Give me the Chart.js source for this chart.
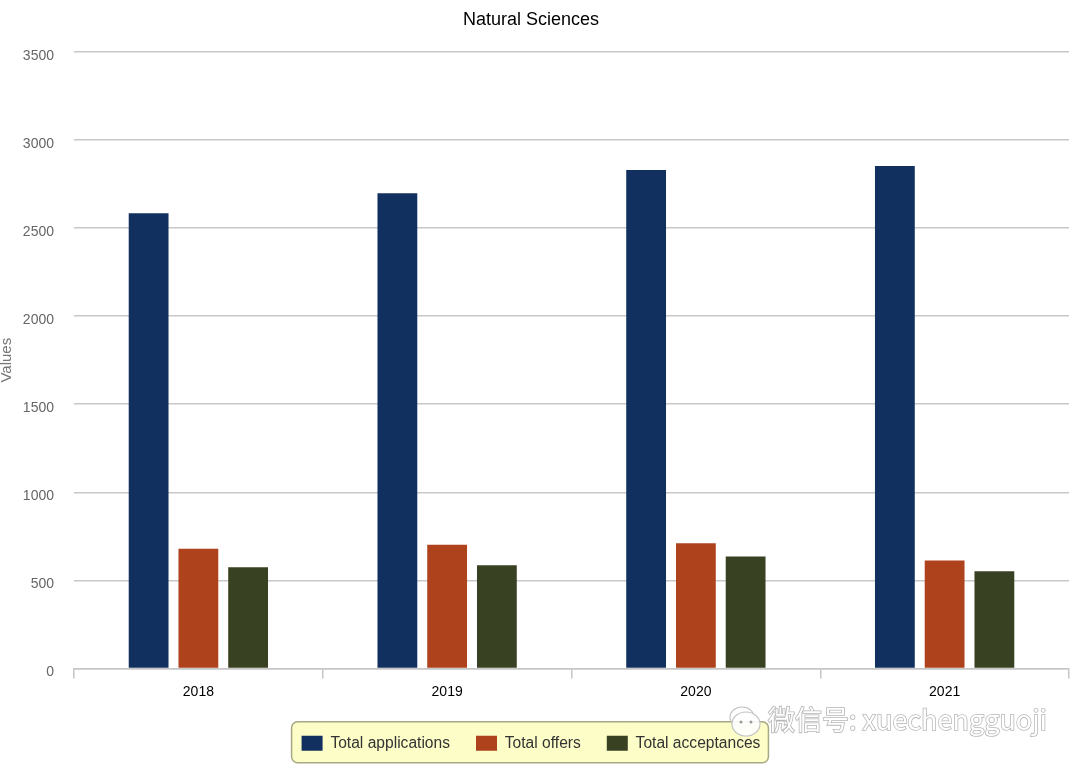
<!DOCTYPE html>
<html>
<head>
<meta charset="utf-8">
<style>html,body{margin:0;padding:0;background:#fff}canvas{display:block}</style>
<script src="https://cdn.jsdelivr.net/npm/chart.js@4"></script>
</head>
<body>
<canvas id="c" width="1080" height="772"></canvas>
<script>
const categories = ["2018", "2019", "2020", "2021"];
const totalApplications = [2585, 2698, 2830, 2853];
const totalOffers = [680, 702, 710, 612];
const totalAcceptances = [575, 585, 635, 552];
const seriesNames = ["Total applications", "Total offers", "Total acceptances"];
const seriesColors = ["#12305f", "#ae421c", "#384122"];
const chartTitle = "Natural Sciences";
const yAxisTitle = "Values";
const watermark = "微信号: xuechengguoji";

const fontFamily = "'Liberation Sans', Arial, sans-serif";

const layoutTweaks = {
  id: "layoutTweaks",
  afterLayout(chart) {
    const t = chart.titleBlock, l = chart.legend;
    t.left -= 3.5; t.right -= 3.5;
    l.left -= 3.5; l.right -= 3.5;
    l.top += 5; l.bottom += 5;
    l.legendHitBoxes.forEach(b => { b.left -= 3.5; b.top += 5; });
  }
};

const legendBox = {
  id: "legendBox",
  beforeDraw(chart) {
    const ctx = chart.ctx, h = chart.legend.legendHitBoxes;
    const x0 = h[0].left - 10, x1 = h[h.length - 1].left + h[h.length - 1].width + 8;
    const cy = h[0].top + h[0].height / 2 - 6;
    ctx.save();
    ctx.fillStyle = "#fdfdc8";
    ctx.strokeStyle = "#a8a882";
    ctx.lineWidth = 1.5;
    ctx.beginPath();
    ctx.roundRect(x0, cy - 20.5, x1 - x0, 41, 6);
    ctx.fill();
    ctx.stroke();
    ctx.restore();
  }
};

const watermarkPlugin = {
  id: "watermarkPlugin",
  afterDraw(chart) {
    const ctx = chart.ctx;
    ctx.save();
    ctx.fillStyle = "rgba(255,255,255,0.9)";
    ctx.strokeStyle = "#c4c4c4";
    ctx.lineWidth = 1.2;
    ctx.beginPath(); ctx.ellipse(742, 717, 12, 10, 0, 0, Math.PI * 2); ctx.stroke();
    ctx.beginPath(); ctx.ellipse(746, 724, 14, 12, 0, 0, Math.PI * 2); ctx.fill(); ctx.stroke();
    ctx.fillStyle = "#9a9a9a";
    [741, 751].forEach(x => { ctx.beginPath(); ctx.arc(x, 722, 1.5, 0, Math.PI * 2); ctx.fill(); });
    ctx.font = "27px 'Noto Sans CJK SC', 'Open Sans', sans-serif";
    ctx.textBaseline = "middle";
    ctx.textAlign = "left";
    ctx.lineWidth = 1.6;
    ctx.strokeStyle = "rgba(150,150,150,0.7)";
    ctx.strokeText(watermark, 768, 720);
    ctx.fillStyle = "#ffffff";
    ctx.fillText(watermark, 768, 720);
    ctx.restore();
  }
};

new Chart(document.getElementById("c"), {
  type: "bar",
  data: {
    labels: categories,
    datasets: [
      { label: seriesNames[0], data: totalApplications, backgroundColor: seriesColors[0] },
      { label: seriesNames[1], data: totalOffers, backgroundColor: seriesColors[1] },
      { label: seriesNames[2], data: totalAcceptances, backgroundColor: seriesColors[2] }
    ]
  },
  options: {
    responsive: false,
    animation: false,
    devicePixelRatio: 1,
    layout: { padding: { left: 0, right: 11, top: 0, bottom: 16 } },
    datasets: { bar: { categoryPercentage: 0.6, barPercentage: 0.8 } },
    plugins: {
      title: {
        display: true,
        text: chartTitle,
        color: "#000",
        font: { family: fontFamily, size: 18, weight: "normal", lineHeight: 1.2 },
        padding: { top: 9, bottom: 21.4 }
      },
      legend: {
        display: true,
        position: "bottom",
        labels: {
          boxWidth: 21,
          boxHeight: 15,
          padding: 26,
          color: "#333",
          font: { family: fontFamily, size: 15.6 }
        }
      },
      tooltip: { enabled: false }
    },
    scales: {
      x: {
        offset: true,
        afterFit(s) { s.height = 36; },
        border: { color: "#c6c6c6", width: 1.5 },
        grid: { drawOnChartArea: false, drawTicks: true, tickLength: 10, color: "#c6c6c6", lineWidth: 1.5 },
        ticks: { color: "#000", maxRotation: 0, padding: 5, font: { family: fontFamily, size: 14 } }
      },
      y: {
        min: 0,
        max: 3500,
        afterFit(s) { s.width = 74; },
        title: {
          display: true,
          text: yAxisTitle,
          color: "#777",
          padding: { top: -2, bottom: 0 },
          font: { family: fontFamily, size: 15 }
        },
        border: { display: false },
        grid: { color: "#c8c8c8", lineWidth: 1.5, drawTicks: false },
        ticks: {
          stepSize: 500,
          color: "#666",
          padding: 20,
          labelOffset: 4,
          format: { useGrouping: false },
          font: { family: fontFamily, size: 14 }
        }
      }
    }
  },
  plugins: [layoutTweaks, legendBox, watermarkPlugin]
});
</script>
</body>
</html>
